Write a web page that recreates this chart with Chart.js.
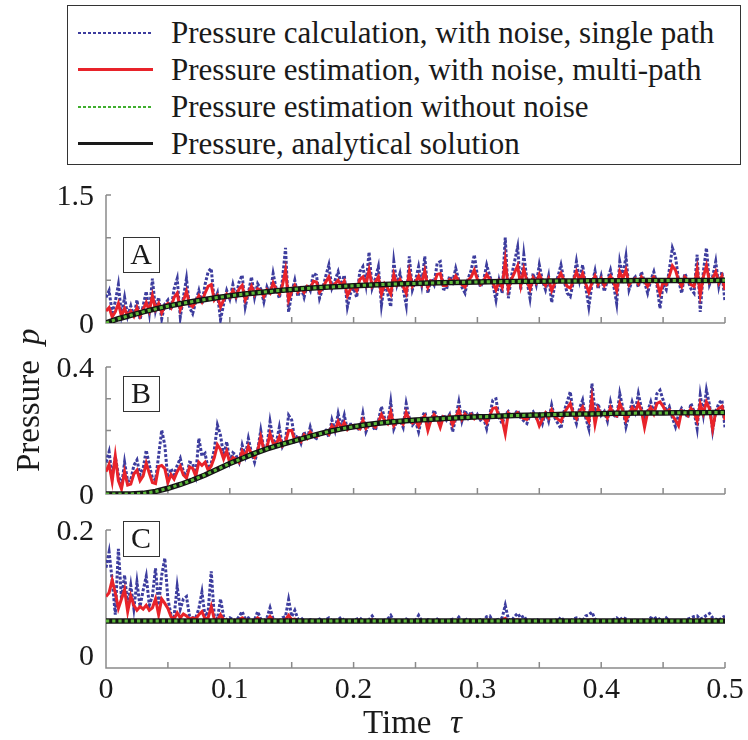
<!DOCTYPE html>
<html>
<head>
<meta charset="utf-8">
<script src="https://cdn.jsdelivr.net/npm/chart.js@4.4.1/dist/chart.umd.min.js"></script>
<style>
  body { margin: 0; width: 748px; height: 740px; background: #fff; position: relative; overflow: hidden;
         font-family: "Liberation Serif", "Times New Roman", serif; }
  canvas { position: absolute; left: 0; }
  #legend { position: absolute; left: 67px; top: 5px; width: 674px; height: 160px; box-sizing: border-box;
            border: 1px solid #333; background: #fff; }
  .row { position: absolute; left: 0; width: 100%; height: 37px; }
  .sample { position: absolute; left: 10px; width: 75px; top: 17px; height: 3px; }
  .txt { position: absolute; left: 103px; top: 0; line-height: 37px; font-size: 31px; color: #1a1a1a; white-space: nowrap; }
</style>
</head>
<body>
<div id="legend">
  <div class="row" style="top:8px"><div class="sample" style="height:2px;top:18px;background:repeating-linear-gradient(90deg,#3d3d9e 0 3px,transparent 3px 5px)"></div><span class="txt">Pressure calculation, with noise, single path</span></div>
  <div class="row" style="top:45px"><div class="sample" style="background:#e8232a"></div><span class="txt">Pressure estimation, with noise, multi-path</span></div>
  <div class="row" style="top:82px"><div class="sample" style="height:2px;top:18px;background:repeating-linear-gradient(90deg,#3fae2e 0 3px,transparent 3px 5px)"></div><span class="txt">Pressure estimation without noise</span></div>
  <div class="row" style="top:119px"><div class="sample" style="background:#1a1a1a"></div><span class="txt">Pressure, analytical solution</span></div>
</div>
<canvas id="pA" width="748" height="160" style="top:180px"></canvas>
<canvas id="pB" width="748" height="210" style="top:300px"></canvas>
<canvas id="pC" width="748" height="225" style="top:515px"></canvas>
<script>
// time grids: noisy paths every 0.0025, analytical every 0.01 (panel C every 0.05)
const tFine = [];
for (let i = 0; i <= 200; i++) tFine.push(+(i * 0.0025).toFixed(4));
const tCoarse = [];
for (let i = 0; i <= 50; i++) tCoarse.push(+(i * 0.01).toFixed(2));
const tFlat = [0, 0.05, 0.1, 0.15, 0.2, 0.25, 0.3, 0.35, 0.4, 0.45, 0.5];

// panel A
const aBlue = [.30,.38,.12,.25,.45,.10,.30,.08,.20,.06, .27,.04,.20,.37,.12,.52,.15,.30,.05,.22,
  .27,.15,.40,.52,.07,.30,.52,.18,.11,.25, .38,.22,.45,.60,.64,.25,.35,.04,.22,.38,
  .28,.45,.30,.48,.56,.19,.35,.54,.30,.46, .40,.25,.42,.33,.58,.40,.29,.50,.88,.13,
  .35,.50,.31,.42,.30,.45,.38,.58,.56,.29, .40,.55,.68,.41,.50,.60,.45,.56,.19,.35,
  .41,.30,.60,.66,.45,.83,.41,.52,.66,.21, .47,.35,.19,.72,.45,.58,.40,.21,.78,.39,
  .50,.66,.45,.78,.35,.52,.45,.70,.72,.40, .39,.55,.48,.64,.50,.42,.35,.52,.62,.80,
  .55,.42,.50,.68,.55,.45,.27,.50,.35,1.0, .29,.55,.72,.89,.39,.80,.50,.29,.58,.45,
  .68,.50,.39,.55,.24,.45,.54,.68,.50,.35, .31,.48,.72,.50,.68,.42,.19,.45,.61,.40,
  .55,.37,.50,.62,.45,.23,.72,.55,.78,.39, .50,.54,.42,.60,.48,.35,.50,.60,.45,.17,
  .45,.39,.62,.88,.78,.50,.35,.58,.50,.40, .35,.80,.13,.60,.88,.45,.54,.72,.43,.60,.25];
const aRed = [.14,.18,.07,.13,.23,.08,.17,.08,.14,.08, .18,.08,.16,.24,.14,.32,.16,.23,.12,.20,
  .23,.18,.30,.35,.16,.26,.37,.22,.19,.25, .32,.25,.35,.43,.45,.27,.32,.19,.27,.34,
  .30,.38,.31,.40,.44,.27,.35,.43,.33,.40, .38,.31,.39,.35,.47,.39,.34,.44,.62,.27,
  .37,.44,.36,.41,.36,.43,.40,.49,.48,.36, .41,.48,.54,.42,.46,.50,.44,.49,.32,.40,
  .43,.38,.51,.54,.45,.62,.43,.48,.54,.34, .46,.41,.34,.57,.45,.51,.43,.35,.60,.43,
  .48,.55,.46,.61,.42,.49,.46,.57,.58,.44, .44,.51,.48,.55,.49,.45,.42,.50,.54,.62,
  .51,.45,.49,.57,.51,.47,.39,.49,.42,.73, .40,.51,.59,.67,.44,.63,.49,.40,.53,.47,
  .57,.49,.44,.52,.38,.47,.51,.58,.50,.43, .41,.49,.60,.50,.58,.46,.36,.47,.55,.45,
  .52,.44,.50,.55,.48,.38,.60,.52,.62,.45, .50,.52,.46,.54,.49,.43,.50,.54,.48,.35,
  .48,.45,.55,.67,.62,.50,.43,.54,.50,.45, .43,.63,.33,.54,.67,.48,.52,.60,.47,.55,.39];
const aExact = [0,.05,.09,.13,.165,.197,.226,.252,.276,.298,.318,.336,.352,.367,.38,.392,.403,.413,.421,.429,
  .437,.443,.449,.455,.46,.464,.468,.472,.475,.478,.481,.483,.485,.487,.489,.49,.491,.492,.493,.494,
  .495,.496,.496,.497,.497,.498,.498,.499,.499,.499,.5];
const aNoNoise = aExact;

// panel B
const bBlue = [.10,.133,.055,.117,.06,.023,.10,.04,.044,.09, .107,.06,.08,.138,.091,.05,.044,.12,.201,.154,
  .044,.08,.06,.09,.112,.07,.055,.10,.097,.06, .175,.12,.128,.08,.097,.14,.217,.185,.12,.165,
  .10,.13,.122,.10,.154,.12,.175,.13,.10,.138, .20,.14,.15,.228,.17,.16,.21,.15,.17,.248,
  .233,.17,.185,.16,.196,.17,.211,.18,.175,.19, .19,.20,.18,.233,.20,.253,.21,.248,.20,.22,
  .22,.21,.20,.253,.196,.22,.217,.20,.23,.275, .24,.22,.29,.205,.23,.233,.21,.285,.24,.217,
  .23,.196,.24,.259,.22,.23,.264,.24,.222,.25, .233,.25,.196,.24,.29,.23,.264,.24,.26,.233,
  .25,.233,.24,.206,.25,.296,.30,.24,.222,.25, .26,.243,.25,.264,.24,.23,.222,.25,.259,.24,
  .25,.222,.26,.23,.28,.24,.222,.206,.26,.29, .322,.25,.222,.27,.296,.24,.206,.348,.26,.285,
  .248,.26,.23,.29,.25,.24,.316,.27,.212,.25, .29,.26,.316,.27,.238,.26,.29,.25,.316,.327,
  .296,.26,.275,.24,.212,.25,.27,.259,.24,.285, .26,.206,.311,.25,.327,.28,.20,.26,.285,.296,.21];
const bRed = [.07,.093,.04,.12,.042,.016,.07,.028,.031,.063, .075,.042,.057,.097,.065,.036,.033,.086,.09,.08,
  .036,.061,.047,.07,.087,.06,.05,.085,.081,.056, .10,.09,.10,.075,.088,.115,.155,.14,.11,.135,
  .098,.115,.11,.10,.135,.118,.15,.125,.115,.135, .18,.14,.146,.19,.16,.157,.18,.152,.163,.20,
  .20,.168,.176,.165,.186,.175,.195,.183,.18,.188, .192,.197,.188,.215,.20,.228,.207,.225,.203,.214,
  .216,.21,.205,.232,.207,.22,.218,.21,.226,.25, .232,.222,.258,.215,.228,.231,.22,.257,.235,.224,
  .232,.214,.236,.246,.20,.233,.25,.238,.21,.243, .236,.245,.218,.24,.265,.235,.252,.24,.25,.237,
  .247,.238,.242,.225,.247,.27,.272,.243,.235,.19, .255,.245,.248,.256,.244,.238,.235,.249,.253,.244,
  .215,.236,.255,.24,.265,.245,.236,.228,.255,.27, .285,.251,.237,.26,.274,.246,.229,.30,.22,.269,
  .25,.257,.24,.272,.251,.246,.285,.262,.232,.252, .272,.257,.285,.262,.21,.257,.272,.252,.285,.29,
  .276,.257,.265,.247,.233,.215,.262,.257,.247,.27, .258,.231,.284,.253,.29,.268,.205,.258,.27,.276,.233];
const bExact = [0,0,0,.002,.008,.018,.03,.044,.06,.078,.096,.112,.128,.142,.154,.165,.176,.187,.197,.205,
  .212,.218,.223,.227,.23,.233,.235,.237,.239,.241,.243,.244,.246,.247,.248,.249,.25,.251,.252,.252,
  .253,.254,.254,.255,.255,.255,.256,.256,.256,.257,.257];
const bNoNoise = bExact;

// panel C
const cBlue = [.14,.165,.12,.065,.17,.09,.128,.08,.112,.075, .117,.078,.104,.126,.08,.095,.139,.08,.128,.155,
  .09,.065,.062,.11,.074,.09,.094,.062,.06,.06, .075,.101,.062,.07,.134,.062,.058,.09,.062,.057,
  .06,.057,.055,.062,.07,.058,.06,.055,.057,.07, .058,.055,.06,.076,.058,.055,.055,.06,.062,.089,
  .062,.072,.058,.06,.055,.055,.057,.055,.055,.058, .055,.057,.06,.055,.055,.057,.061,.055,.055,.055,
  .056,.058,.06,.055,.055,.057,.063,.056,.055,.055, .056,.058,.064,.055,.055,.056,.055,.058,.055,.055,
  .056,.064,.055,.055,.057,.055,.055,.058,.055,.055, .055,.056,.058,.055,.061,.055,.056,.059,.055,.055,
  .055,.057,.055,.062,.063,.055,.056,.058,.06,.08, .058,.055,.062,.067,.06,.063,.055,.056,.055,.058,
  .055,.055,.056,.055,.055,.057,.055,.061,.055,.055, .055,.058,.06,.058,.055,.063,.065,.069,.058,.055,
  .055,.055,.056,.055,.057,.06,.056,.061,.058,.055, .055,.056,.055,.057,.055,.055,.06,.058,.061,.057,
  .055,.06,.055,.056,.055,.055,.056,.055,.058,.06, .062,.063,.058,.06,.064,.067,.06,.058,.055,.06,.063];
const cRed = [.094,.10,.12,.10,.075,.09,.105,.07,.095,.08, .072,.078,.074,.08,.072,.076,.09,.065,.09,.083,
  .075,.062,.058,.068,.06,.066,.063,.058,.06,.058, .065,.07,.058,.06,.078,.058,.056,.065,.057,.056,
  .056,.055,.055,.057,.06,.056,.056,.055,.055,.06, .056,.055,.055,.062,.056,.055,.055,.056,.057,.064,
  .057,.058,.055,.056,.055,.055,.055,.056,.055,.055, .055,.055,.056,.055,.055,.055,.056,.055,.055,.055,
  .055,.056,.056,.055,.055,.055,.057,.055,.055,.055, .055,.055,.056,.055,.055,.055,.055,.056,.055,.055,
  .055,.056,.055,.055,.055,.055,.055,.056,.055,.055, .055,.055,.056,.055,.056,.055,.055,.056,.055,.055,
  .055,.055,.055,.056,.056,.055,.055,.055,.056,.059, .055,.055,.056,.057,.055,.056,.055,.055,.055,.055,
  .055,.055,.055,.055,.055,.055,.055,.056,.055,.055, .055,.055,.056,.055,.055,.056,.056,.057,.055,.055,
  .055,.055,.055,.055,.055,.056,.055,.057,.055,.055, .055,.055,.055,.055,.055,.055,.056,.055,.056,.055,
  .055,.056,.055,.055,.055,.055,.055,.055,.055,.056, .056,.056,.055,.056,.056,.057,.056,.055,.055,.056,.056];
const cExact = [.055,.055,.055,.055,.055,.055,.055,.055,.055,.055,.055];
const cNoNoise = cExact;

// axes
const xMarks = [0.05,0.1,0.15,0.2,0.25,0.3,0.35,0.4,0.45,0.5];
const xLabels = ['0','0.1','0.2','0.3','0.4','0.5'];
const xLabelVals = [0,0.1,0.2,0.3,0.4,0.5];

const SERIF = '"Liberation Serif", "Times New Roman", serif';
const BLUE = '#3d3d9e', RED = '#e8232a', GREEN = '#5cb83a', BLACK = '#141414', AXIS = '#8a8a8a';

const pts = (ts, vs) => vs.map((v, i) => ({ x: ts[i], y: v }));

const paperAxes = {
  id: 'paperAxes',
  beforeDatasetsDraw(chart, args, o) {
    const { ctx, chartArea: a, scales: { x, y } } = chart;
    ctx.save();
    ctx.strokeStyle = AXIS;
    ctx.lineWidth = 1.5;
    ctx.beginPath();
    ctx.moveTo(a.left, y.getPixelForValue(o.yTop));
    ctx.lineTo(a.left, a.bottom);
    ctx.lineTo(a.right, a.bottom);
    xMarks.forEach(v => {
      const px = x.getPixelForValue(v);
      ctx.moveTo(px, a.bottom);
      ctx.lineTo(px, a.bottom - 6);
    });
    o.yMarks.forEach(v => {
      const py = y.getPixelForValue(v);
      ctx.moveTo(a.left, py);
      ctx.lineTo(a.left + 5, py);
    });
    ctx.stroke();
    ctx.restore();
  },
  afterDraw(chart, args, o) {
    const { ctx, chartArea: a, scales: { x, y } } = chart;
    ctx.save();
    ctx.fillStyle = '#1a1a1a';
    ctx.font = '30px ' + SERIF;
    ctx.textAlign = 'right';
    ctx.textBaseline = 'middle';
    o.yLabels.forEach((s, i) => ctx.fillText(s, 94, y.getPixelForValue(o.yLabelVals[i]) + 2));

    // panel letter
    const bx = a.left + 17, by = a.top + o.boxDy;
    ctx.fillStyle = '#fff';
    ctx.fillRect(bx, by, 36, 35);
    ctx.strokeStyle = '#333';
    ctx.lineWidth = 1;
    ctx.strokeRect(bx + 0.5, by + 0.5, 36, 35);
    ctx.fillStyle = '#1a1a1a';
    ctx.textAlign = 'center';
    ctx.fillText(o.letter, bx + 18, by + 19);

    if (o.xAxisLabels) {
      ctx.textBaseline = 'alphabetic';
      xLabels.forEach((s, i) => ctx.fillText(s, x.getPixelForValue(xLabelVals[i]), a.bottom + 30));
      ctx.textAlign = 'left';
      ctx.font = '33px ' + SERIF;
      ctx.fillText('Time', 363, a.bottom + 65);
      ctx.font = 'italic 33px ' + SERIF;
      ctx.fillText('\u03C4', 450, a.bottom + 65);
    }
    if (o.yTitle) {
      ctx.translate(39, a.top + 105);
      ctx.rotate(-Math.PI / 2);
      ctx.textAlign = 'left';
      ctx.textBaseline = 'alphabetic';
      ctx.font = '33px ' + SERIF;
      ctx.fillText('Pressure', 0, 0);
      ctx.font = 'italic 33px ' + SERIF;
      ctx.fillText('p', 127, 0);
    }
    ctx.restore();
  }
};

function panel(id, blue, red, exact, tExact, noNoise, yMin, yMax, pad, axisOpts) {
  new Chart(document.getElementById(id), {
    type: 'line',
    data: {
      datasets: [
        { label: 'Pressure estimation without noise', data: pts(tExact, noNoise), borderColor: GREEN,
          borderWidth: 3, borderDash: [3.2, 3], order: 0 },
        { label: 'Pressure, analytical solution', data: pts(tExact, exact), borderColor: BLACK,
          borderWidth: 5.5, order: 1 },
        { label: 'Pressure estimation, with noise, multi-path', data: pts(tFine, red), borderColor: RED,
          borderWidth: 3, order: 2 },
        { label: 'Pressure calculation, with noise, single path', data: pts(tFine, blue), borderColor: BLUE,
          borderWidth: 3, borderDash: [3, 1.8], order: 3 }
      ]
    },
    options: {
      responsive: false,
      animation: false,
      devicePixelRatio: 1,
      layout: { padding: pad },
      elements: { point: { radius: 0 }, line: { tension: 0, borderJoinStyle: 'miter' } },
      scales: {
        x: { type: 'linear', min: 0, max: 0.5, display: false },
        y: { type: 'linear', min: yMin, max: yMax, display: false }
      },
      plugins: { legend: { display: false }, tooltip: { enabled: false }, paperAxes: axisOpts }
    },
    plugins: [paperAxes]
  });
}

panel('pA', aBlue, aRed, aExact, tCoarse, aNoNoise, 0, 1.5,
  { left: 106, right: 23, top: 15, bottom: 17 },
  { yTop: 1.5, yMarks: [0.5, 1.0, 1.5], yLabels: ['1.5', '0'], yLabelVals: [1.5, 0], letter: 'A', boxDy: 42 });
panel('pB', bBlue, bRed, bExact, tCoarse, bNoNoise, 0, 0.4,
  { left: 106, right: 23, top: 67, bottom: 16 },
  { yTop: 0.4, yMarks: [0.1, 0.2, 0.3, 0.4], yLabels: ['0.4', '0'], yLabelVals: [0.4, 0], letter: 'B', boxDy: 9, yTitle: true });
panel('pC', cBlue, cRed, cExact, tFlat, cNoNoise, -0.02, 0.2,
  { left: 106, right: 23, top: 15, bottom: 72 },
  { yTop: 0.2, yMarks: [0.2], yLabels: ['0.2', '0'], yLabelVals: [0.2, 0], letter: 'C', boxDy: -9, xAxisLabels: true });
</script>
</body>
</html>
